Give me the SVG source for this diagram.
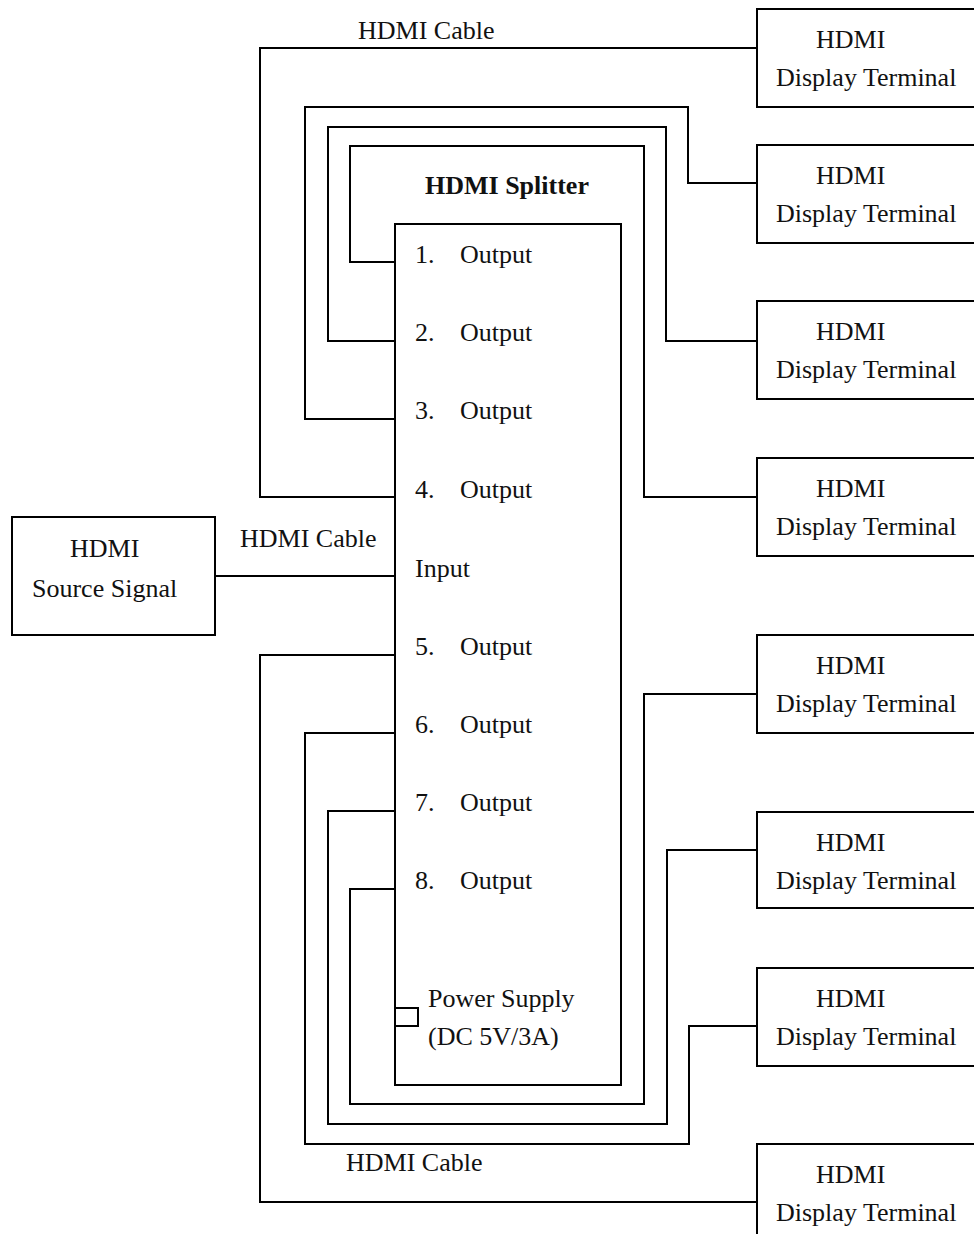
<svg xmlns="http://www.w3.org/2000/svg" width="974" height="1234" viewBox="0 0 974 1234">
<style>
.box{fill:#fff;stroke:#000;stroke-width:2}
.ln{fill:none;stroke:#000;stroke-width:2}
text{font-family:"Liberation Serif","Times New Roman",serif;font-size:26px;fill:#111}
.b{font-weight:bold}
</style>
<rect x="0" y="0" width="974" height="1234" fill="#fff"/>
<g id="connectors">
<path class="ln" d="M395,497 H260 V48 H757"/>
<path class="ln" d="M395,419 H305 V107 H688 V183 H757"/>
<path class="ln" d="M395,341 H328 V127 H666 V341 H757"/>
<path class="ln" d="M395,262 H350 V146 H644 V497 H757"/>
<path class="ln" d="M215,576 H395"/>
<path class="ln" d="M395,655 H260 V1202 H757"/>
<path class="ln" d="M395,733 H305 V1144 H689 V1026 H757"/>
<path class="ln" d="M395,811 H328 V1124 H667 V850 H757"/>
<path class="ln" d="M395,889 H350 V1104 H644 V694 H757"/>
<text x="358" y="39">HDMI Cable</text>
<text x="240" y="547">HDMI Cable</text>
<text x="346" y="1171">HDMI Cable</text>
</g>
<g id="splitter">
<text class="b" x="425" y="194">HDMI Splitter</text>
<rect class="box" x="395" y="224" width="226" height="861"/>
<text x="415" y="263">1.</text><text x="460" y="263">Output</text>
<text x="415" y="341">2.</text><text x="460" y="341">Output</text>
<text x="415" y="419">3.</text><text x="460" y="419">Output</text>
<text x="415" y="498">4.</text><text x="460" y="498">Output</text>
<text x="415" y="577">Input</text>
<text x="415" y="655">5.</text><text x="460" y="655">Output</text>
<text x="415" y="733">6.</text><text x="460" y="733">Output</text>
<text x="415" y="811">7.</text><text x="460" y="811">Output</text>
<text x="415" y="889">8.</text><text x="460" y="889">Output</text>
<rect class="box" x="395" y="1008" width="23" height="18"/>
<text x="428" y="1007">Power Supply</text>
<text x="428" y="1045">(DC 5V/3A)</text>
</g>
<g id="source">
<rect class="box" x="12" y="517" width="203" height="118"/>
<text x="70" y="557">HDMI</text>
<text x="32" y="597">Source Signal</text>
</g>
<g id="display1"><rect class="box" x="757" y="9" width="230" height="98"/><text x="816" y="48">HDMI</text><text x="776" y="86">Display Terminal</text></g>
<g id="display2"><rect class="box" x="757" y="145" width="230" height="98"/><text x="816" y="184">HDMI</text><text x="776" y="222">Display Terminal</text></g>
<g id="display3"><rect class="box" x="757" y="301" width="230" height="98"/><text x="816" y="340">HDMI</text><text x="776" y="378">Display Terminal</text></g>
<g id="display4"><rect class="box" x="757" y="458" width="230" height="98"/><text x="816" y="497">HDMI</text><text x="776" y="535">Display Terminal</text></g>
<g id="display5"><rect class="box" x="757" y="635" width="230" height="98"/><text x="816" y="674">HDMI</text><text x="776" y="712">Display Terminal</text></g>
<g id="display6"><rect class="box" x="757" y="812" width="230" height="96"/><text x="816" y="851">HDMI</text><text x="776" y="889">Display Terminal</text></g>
<g id="display7"><rect class="box" x="757" y="968" width="230" height="98"/><text x="816" y="1007">HDMI</text><text x="776" y="1045">Display Terminal</text></g>
<g id="display8"><rect class="box" x="757" y="1144" width="230" height="98"/><text x="816" y="1183">HDMI</text><text x="776" y="1221">Display Terminal</text></g>
</svg>
